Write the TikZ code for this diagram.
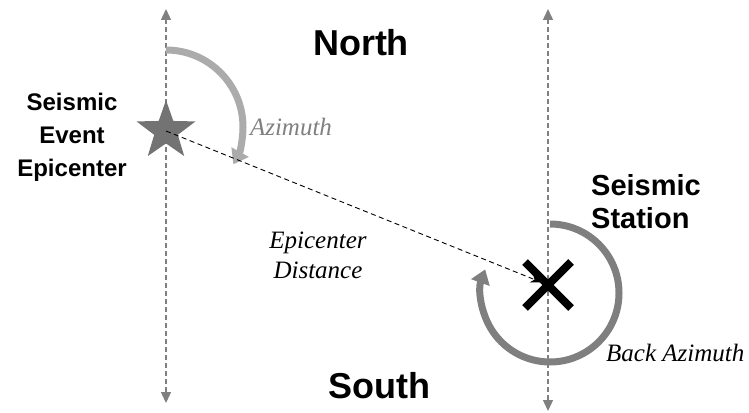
\documentclass[tikz,border=0pt]{standalone}
\usepackage{fontspec}
\setmainfont{Liberation Serif}
\newfontfamily\headfont{Liberation Sans}
\usetikzlibrary{arrows.meta,shapes.geometric}

\definecolor{axisgray}{HTML}{808080}
\definecolor{azigray}{HTML}{ABABAB}
\definecolor{bazigray}{HTML}{7F7F7F}
\definecolor{stargray}{HTML}{737373}

\tikzset{
	meridian/.style={axisgray,line width=1.4pt,dash pattern=on 5pt off 3pt,
		{Triangle[width=10pt,length=11pt]}-{Triangle[width=10pt,length=11pt]}},
	bigword/.style={font=\headfont\bfseries\fontsize{36}{40}\selectfont,inner sep=0pt},
	placename/.style={font=\headfont\bfseries\fontsize{24}{33}\selectfont,inner sep=0pt,align=center},
	anglename/.style={font=\itshape\fontsize{25}{30}\selectfont,inner sep=0pt}
}

\begin{document}
\begin{tikzpicture}[x=1pt,y=-1pt]
		\useasboundingbox (0,0) rectangle (749,412);
		% north-south lines through epicenter and station
		\coordinate (etop) at (166,9);
		\coordinate (ebot) at (166,403);
		\coordinate (stop) at (548,9);
		\coordinate (sbot) at (548,411);
		\draw[meridian] (ebot) -- (etop);
		\draw[meridian] (sbot) -- (stop);

		\node[star,star points=5,star point ratio=2.5,fill=stargray,minimum size=62pt,inner sep=0pt] (epi) at (166,131) {};
		\coordinate (sta) at (548,285);

		% azimuth, clockwise from north (y points down, so angles run the other way)
		\draw[azigray,line width=7pt,-{Triangle[width=19pt,length=14pt]}]
			(166,50) arc[start angle=-90,end angle=29,radius=77];
		% back azimuth, clockwise from north at the station
		\draw[bazigray,line width=7pt,-{Triangle[width=19pt,length=14pt]}]
			(550,224) arc[start angle=-90,end angle=200,radius=69];

		% station mark
		\draw[line width=8pt] ([shift={(-23,-23)}]sta) -- ([shift={(23,23)}]sta);
		\draw[line width=8pt] ([shift={(-23,23)}]sta) -- ([shift={(23,-23)}]sta);

		% epicenter distance
		\draw[black,line width=0.9pt,dash pattern=on 5pt off 3.5pt,-{Stealth[length=11pt,width=9pt]},shorten >=7pt]
			(epi.center) -- (sta);

		\node[bigword] (north) at (361,43) {North};
		\node[bigword] (south) at (379,386) {South};
		\node[placename] (epiname) at (72,137) {Seismic\\Event\\Epicenter};
		\node[placename,font=\headfont\bfseries\fontsize{29}{33}\selectfont,align=left,anchor=west] (staname) at (591,202) {Seismic\\Station};
		\node[anglename,text=axisgray] (azi) at (291,127) {Azimuth};
		\node[anglename,align=center] (dist) at (318,255) {Epicenter\\Distance};
		\node[anglename,anchor=west] (bazi) at (606,353) {Back Azimuth};
	\end{tikzpicture}
\end{document}
